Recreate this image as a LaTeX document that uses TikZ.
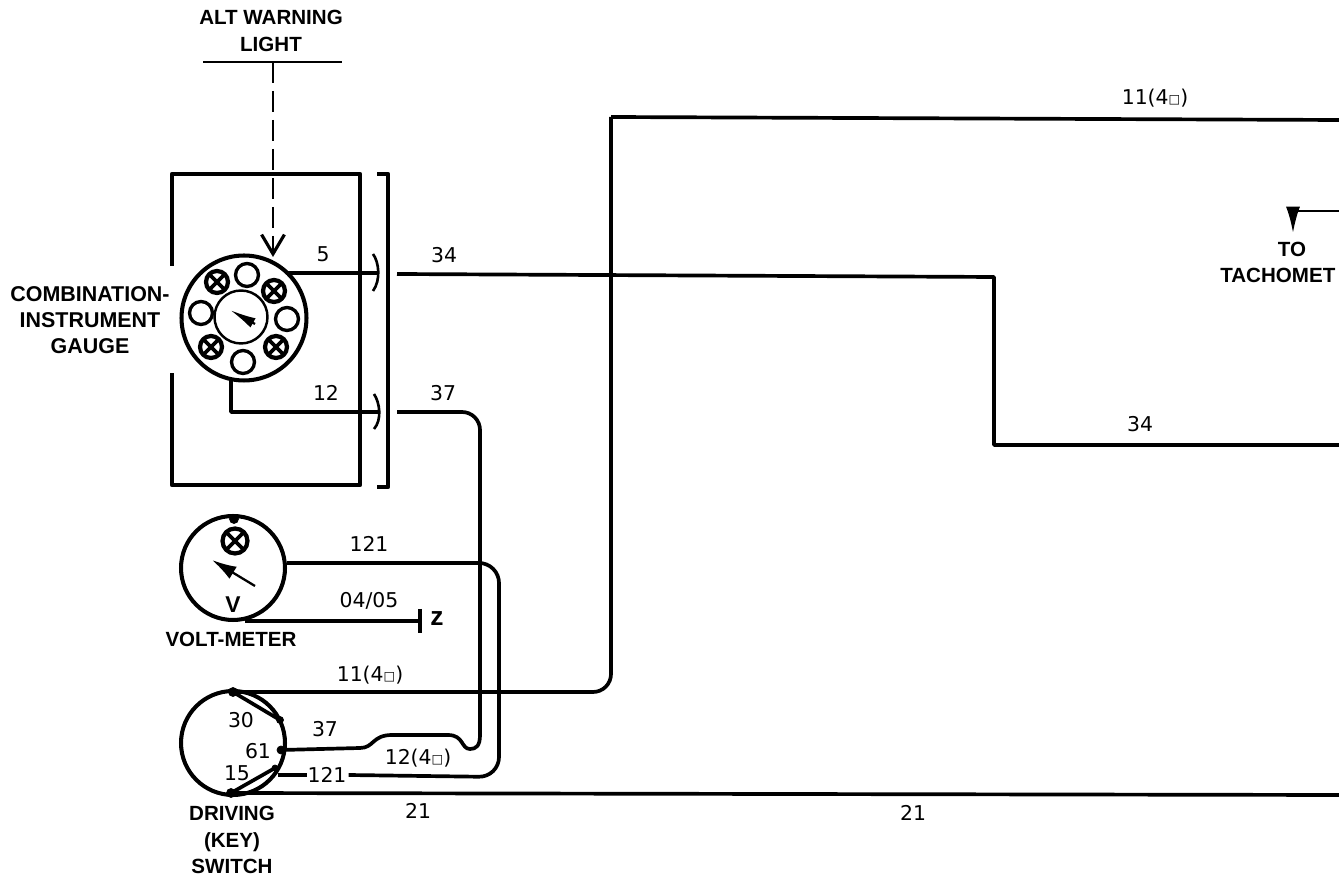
\documentclass[tikz,border=0pt]{standalone}
\usepackage{fontspec}
\setmainfont{Liberation Sans}
\newfontfamily\numfont{DejaVu Sans}
\usetikzlibrary{arrows.meta}
\newcommand{\sqbox}{{\fontsize{7}{7}\selectfont\raisebox{0.3pt}{□}}}
\begin{document}
\begin{tikzpicture}[x=0.02cm,y=-0.02cm]
		\tikzset{>=latex}
		\tikzset{wire/.style={line width=2.1pt,line join=round},
			boxline/.style={line width=2.4pt,line join=round},
			dial/.style={draw,circle,line width=2.3pt,inner sep=0pt},
			lampo/.style={dial,line width=1.9pt,minimum size=0.46cm},
			lampx/.style={dial,line width=2.4pt,minimum size=0.44cm,path picture={
				\draw [line width=2.1pt] (path picture bounding box.north west) -- (path picture bounding box.south east);
				\draw [line width=2.1pt] (path picture bounding box.north east) -- (path picture bounding box.south west);}},
			caps/.style={font=\fontsize{11.7}{15}\selectfont\bfseries,align=center,inner sep=0pt},
			num/.style={font=\fontsize{11.6}{13}\numfont,inner sep=0pt}}
		\useasboundingbox (0,0) rectangle (1339,884);
		% warning light
		\node [caps] (alt) at (271,31) {ALT WARNING\\LIGHT};
		\coordinate (AL) at (203,62);
		\coordinate (AR) at (342,62);
		\coordinate (AM) at (273,62);
		\coordinate (AT) at (273,257);
		\draw [line width=1.3pt] (AL) -- (AR);
		\draw [line width=1.3pt,dash pattern=on 12pt off 4.5pt,-{Straight Barb[length=11pt,width=13pt,line width=1.8pt]}] (AM) -- (AT);
		% combination gauge
		\draw [boxline] (172,266) -- (172,174) -- (360,174) -- (360,485) -- (172,485) -- (172,373);
		\draw [boxline] (377,174) -- (388,174) -- (388,487) -- (377,487);
		\node [dial,minimum size=2.5cm] (gauge) at (244,318) {};
		\node [dial,line width=1.4pt,minimum size=1.06cm] (face) at (241,317) {};
		\node [lampx] (G1) at (217,282) {};
		\node [lampx] (G2) at (274,291) {};
		\node [lampx] (G3) at (211,347) {};
		\node [lampx] (G4) at (276,347) {};
		\node [lampo] (G5) at (247,275) {};
		\node [lampo] (G6) at (201,313) {};
		\node [lampo] (G7) at (287,319) {};
		\node [lampo] (G8) at (243,362) {};
		\coordinate (N1) at (255,324);
		\coordinate (N2) at (230,310);
		\draw [line width=1.3pt,-{Latex[length=15pt,width=6pt]}] (N1) -- (N2);
		\node [caps,font=\fontsize{12.2}{15}\selectfont\bfseries] (comb) at (90,320) {COMBINATION-\\INSTRUMENT\\GAUGE};
		% connector
		\coordinate (A5) at (287,273);
		\coordinate (B5) at (379,273);
		\coordinate (A12) at (231,380);
		\coordinate (C12) at (231,412);
		\coordinate (B12) at (379,412);
		\draw [wire] (A5) -- (B5);
		\draw [wire] (A12) -- (C12) -- (B12);
		\draw [line width=1.5pt] (373,254) .. controls (379,262) and (381,280) .. (373,291);
		\draw [line width=1.5pt] (374,394) .. controls (380,403) and (382,420) .. (374,429);
		\node [num] (n5) at (323,254) {5};
		\node [num] (n12) at (326,393) {12};
		\node [num] (n34) at (444,255) {34};
		\node [num] (n37) at (443,393) {37};
		% long wires
		\coordinate (A34) at (397,274);
		\coordinate (C34) at (994,277);
		\coordinate (D34) at (994,445);
		\coordinate (E34) at (1339,445);
		\draw [wire] (A34) -- (C34) -- (D34) -- (E34);
		\node [num] (n34b) at (1140,424) {34};
		\coordinate (S30) at (233,692);
		\coordinate (T1) at (611,692);
		\coordinate (T2) at (611,117);
		\coordinate (T3) at (1339,120);
		\draw [wire,rounded corners=0.36cm] (S30) -- (T1) -- (T2);
		\draw [wire] (T2) -- (T3);
		\node [num] (n11a) at (370,675) {11(4\sqbox)};
		\node [num] (n11b) at (1155,98) {11(4\sqbox)};
		\coordinate (S15) at (231,793);
		\coordinate (E21) at (1339,795);
		\draw [wire] (S15) -- (E21);
		\node [num] (n21a) at (418,811) {21};
		\node [num] (n21b) at (913,813) {21};
		% volt-meter
		\node [dial,minimum size=2.08cm] (volt) at (233,568) {};
		\node [lampx,minimum size=0.5cm] (VL) at (235,541) {};
		\coordinate (VT) at (234,519);
		\filldraw (VT) circle (4.5);
		\coordinate (V1) at (255,586);
		\coordinate (V2) at (212,560);
		\draw [line width=1.3pt,-{Latex[length=14pt,width=8pt]}] (V1) -- (V2);
		\node [caps,font=\fontsize{13}{15}\selectfont\bfseries] (vv) at (233,605) {V};
		\node [caps] (vm) at (231,639) {VOLT-METER};
		\coordinate (A04) at (245,621);
		\coordinate (B04) at (420,621);
		\coordinate (GT) at (420,609);
		\coordinate (GB) at (420,633);
		\draw [wire] (A04) -- (B04);
		\draw [wire] (GT) -- (GB);
		\node [caps,font=\fontsize{15}{15}\selectfont\bfseries] (zz) at (437,619) {z};
		\node [num] (n04) at (369,601) {04/05};
		\node [num] (n121a) at (369,544) {121};
		% driving switch
		\node [dial,minimum size=2.08cm] (key) at (233,743) {};
		\coordinate (S1) at (280,720);
		\coordinate (S61) at (281,750);
		\coordinate (S2) at (275,768);
		\filldraw (S30) circle (4.5);
		\filldraw (S1) circle (3.5);
		\filldraw (S61) circle (4);
		\filldraw (S2) circle (3);
		\filldraw (S15) circle (4.5);
		\draw [wire] (S30) -- (S1);
		\draw [wire] (S15) -- (S2);
		\node [num] (n30) at (241,720) {30};
		\node [num] (n61) at (258,751) {61};
		\node [num] (n15) at (237,773) {15};
		\node [caps] (drv) at (232,840) {DRIVING\\(KEY)\\SWITCH};
		% wire 37 into the switch
		\coordinate (A37) at (397,412);
		\coordinate (B37) at (480,412);
		\coordinate (C37) at (480,735);
		\draw [wire,rounded corners=0.36cm] (A37) -- (B37) -- (C37);
		\draw [wire] (C37) .. controls (480,746) and (476,749) .. (470,749)
			.. controls (461,749) and (464,735) .. (448,735) -- (392,735)
			.. controls (372,735) and (374,748) .. (360,748) -- (S61);
		\node [num] (n37b) at (325,729) {37};
		\node [num] (n124) at (418,758) {12(4\sqbox)};
		% wire 121
		\coordinate (M1) at (287,563);
		\coordinate (M2) at (499,563);
		\coordinate (M3) at (499,777);
		\node [num] (n121b) at (327,775) {121};
		\coordinate (M4) at (n121b.east);
		\coordinate (S3) at (278,775);
		\draw [wire,rounded corners=0.4cm] (M1) -- (M2) -- (M3) -- ([xshift=1pt]M4);
		\draw [wire] (S3) -- (n121b.west);
		% tachometer
		\coordinate (H1) at (1339,211);
		\coordinate (H2) at (1293,211);
		\coordinate (H3) at (1293,233);
		\draw [line width=1.3pt,-{Latex[length=15pt,width=8pt]}] (H1) -- (H2) -- (H3);
		\node [caps] (to) at (1292,249) {TO};
		\node [caps,anchor=west] (tach) at (1220,275) {TACHOMET};
	    \end{tikzpicture}
\end{document}
